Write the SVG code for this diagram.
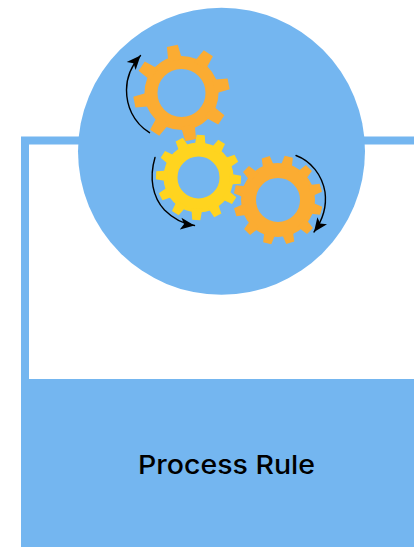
<svg xmlns="http://www.w3.org/2000/svg" width="414" height="547" viewBox="0 0 414 547">
<style>
.blue{fill:#74b6f0}
.org{fill:#fbac32}
.yel{fill:#ffd41f}
.arc{fill:none;stroke:#000;stroke-width:1.4;stroke-linecap:round}
.lbl{font-family:"Inter","Open Sans","Liberation Sans",sans-serif;font-size:26px;font-weight:500;fill:#000}
</style>
<defs>
<marker id="ah" markerUnits="userSpaceOnUse" markerWidth="16" markerHeight="14" refX="14" refY="7" orient="auto">
<path d="M0 1L14 7L0 13L3.500 7Z" fill="#000"/>
</marker>
<polygon id="t8" points="-5.500,-48 5.500,-48 7,-33 -7,-33"/>
<polygon id="t12" points="-4,-42.500 4,-42.500 5.500,-31 -5.500,-31"/>
<polygon id="t12b" points="-4.200,-44.500 4.200,-44.500 5.800,-33 -5.800,-33"/>
</defs>
<rect width="414" height="547" fill="#fff"/>
<g id="frame">
<path class="blue" d="M21 136.500H414V144.500H29V379H414V547H21Z"/>
</g>
<g id="hub"><circle class="blue" cx="221.500" cy="151.300" r="143.500"/></g>
<g id="gear-top" class="org" transform="translate(181.500 93)">
<circle r="30.500" fill="none" stroke="#fbac32" stroke-width="13"/>
<use href="#t8" transform="rotate(-11)"/><use href="#t8" transform="rotate(34)"/><use href="#t8" transform="rotate(79)"/><use href="#t8" transform="rotate(124)"/><use href="#t8" transform="rotate(169)"/><use href="#t8" transform="rotate(214)"/><use href="#t8" transform="rotate(259)"/><use href="#t8" transform="rotate(304)"/>
</g>
<g id="gear-yellow" class="yel" transform="translate(198.500 177.500)">
<circle r="28" fill="none" stroke="#ffd41f" stroke-width="14"/>
<use href="#t12" transform="rotate(3)"/><use href="#t12" transform="rotate(33)"/><use href="#t12" transform="rotate(63)"/><use href="#t12" transform="rotate(93)"/><use href="#t12" transform="rotate(123)"/><use href="#t12" transform="rotate(153)"/><use href="#t12" transform="rotate(183)"/><use href="#t12" transform="rotate(213)"/><use href="#t12" transform="rotate(243)"/><use href="#t12" transform="rotate(273)"/><use href="#t12" transform="rotate(303)"/><use href="#t12" transform="rotate(333)"/>
</g>
<g id="gear-right" class="org" transform="translate(278 200)">
<circle r="29.500" fill="none" stroke="#fbac32" stroke-width="15"/>
<use href="#t12b" transform="rotate(-16)"/><use href="#t12b" transform="rotate(14)"/><use href="#t12b" transform="rotate(44)"/><use href="#t12b" transform="rotate(74)"/><use href="#t12b" transform="rotate(104)"/><use href="#t12b" transform="rotate(134)"/><use href="#t12b" transform="rotate(164)"/><use href="#t12b" transform="rotate(194)"/><use href="#t12b" transform="rotate(224)"/><use href="#t12b" transform="rotate(254)"/><use href="#t12b" transform="rotate(284)"/><use href="#t12b" transform="rotate(314)"/>
</g>
<g id="connectors">
<path class="arc" marker-end="url(#ah)" d="M149.500 132.700C132.500 122 126.500 105 126.500 90C126.500 77 132 65 140.500 55.500"/>
<path class="arc" marker-end="url(#ah)" d="M155 157.500C149 178 152.500 197 164.500 210C173.500 219 183.500 224 194.500 225.500"/>
<path class="arc" marker-end="url(#ah)" d="M296 155.500C311 161 322 175 325 192C327 207 322 221 314 232"/>
</g>
<g id="label"><text class="lbl" x="138" y="473.500" textLength="177" lengthAdjust="spacingAndGlyphs">Process Rule</text></g>
</svg>
